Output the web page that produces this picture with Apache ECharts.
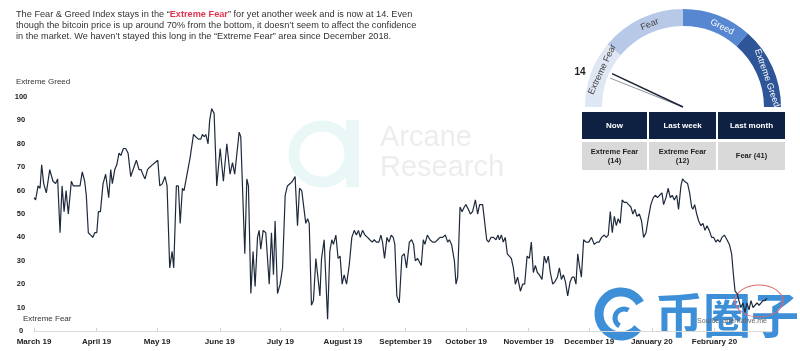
<!DOCTYPE html>
<html>
<head>
<meta charset="utf-8">
<script src="https://cdn.jsdelivr.net/npm/echarts@6/dist/echarts.min.js"></script>
<style>
  html, body { margin: 0; padding: 0; background: #fff; }
  #chart { width: 800px; height: 351px; }
</style>
</head>
<body>
<div id="chart"></div>
<script>
// day offset from 1 March 2019
var days = [
  0,0.8,2.0,3.0,3.8,4.8,6.1,7.8,9.4,10.7,
  11.7,12.9,13.9,14.9,15.9,17.0,18.5,19.5,20.6,21.8,
  22.8,23.9,25.1,25.9,26.9,28.1,29.1,30.1,31.1,31.9,
  32.9,34.2,35.5,36.3,37.0,38.0,38.8,40.0,41.0,42.1,
  43.0,44.3,45.4,46.6,47.9,49.1,50.7,52.0,53.0,53.9,
  55.0,56.2,57.3,58.6,60.0,61.3,62.3,63.6,64.9,65.9,
  67.2,68.4,69.2,70.5,71.5,72.4,73.5,74.3,75.8,77.3,
  79.0,80.1,81.4,82.6,83.4,84.4,85.1,86.2,87.0,88.0,
  89.2,90.5,92.2,93.8,95.5,97.1,98.3,99.4,101.6,102.4,
  104.4,105.4,106.2,107.4,108.5,109.5,110.7,111.5,112.3,113.5,
  114.8,116.5,117.6,118.6,119.4,120.6,121.9,123.1,124.4,125.5,
  126.9,128.0,129.3,130.5,131.5,132.6,133.5,134.6,135.5,136.3,
  137.4,138.4,139.6,141.6,142.4,143.7,145.4,146.5,147.5,148.3,
  149.5,150.6,151.6,152.6,153.6,154.8,156.1,157.4,158.6,159.7,
  160.7,161.6,162.7,163.9,165.2,166.3,167.5,168.5,169.6,170.8,
  171.8,172.6,173.6,174.8,175.8,176.9,177.9,178.7,179.7,180.9,
  182.2,183.4,184.5,185.9,187.0,188.0,188.8,190.0,190.8,191.8,
  192.8,193.6,194.8,196.1,197.4,198.7,199.9,201.1,202.4,203.7,
  204.9,205.7,206.8,208.2,209.0,209.8,211.0,212.0,213.1,213.9,
  215.1,216.1,217.2,218.6,219.7,220.7,221.4,222.2,223.0,224.2,
  225.2,226.3,227.5,228.8,229.8,230.5,231.5,232.4,233.4,234.4,
  235.4,236.4,237.4,238.4,239.5,240.9,242.0,243.0,244.2,245.3,
  246.3,247.3,248.3,249.3,250.3,251.6,252.7,253.7,254.7,255.7,
  256.9,257.9,259.2,260.2,261.2,262.2,263.2,264.3,265.5,266.5,
  267.5,268.4,269.3,270.1,271.1,272.2,
  273.4,274.7,276.1,277.5,278.8,279.9,281.1,282.4,283.4,284.4,
  285.4,286.4,287.4,288.4,289.3,290.3,291.3,292.3,293.5,294.5,
  295.6,296.6,297.6,298.6,299.8,300.9,301.9,303.1,304.2,305.5,
  306.7,307.7,308.8,309.8,311.0,311.8,313.0,314.1,315.1,316.1,
  317.1,318.3,319.2,320.4,321.2,322.1,322.9,323.7,324.7,325.7,
  326.3,327.2,328.2,329.2,330.3,331.3,332.3,333.3,334.4,335.6,
  336.6,337.7,338.6,339.7,340.7,341.9,343.2,344.4,345.5,346.5,
  347.2,348.2,349.1,350.1,351.1,352.1,353.1,354.1,355.1,356.1,
  357.1,358.1,359.1,360.1,361.0,362.0,363.0
];
var fgi = [
  57,56,62,61,71,63,59,69,64,63,
  65,42,62,51,60,50,64,62,62,62,
  62,68,64,58,42,41,40,42,42,51,
  51,63,67,67,57,69,63,69,71,76,
  75,78,78,76,66,69,73,69,69,67,
  65,69,70,71,72,73,62,63,66,62,
  27,34,27,62,62,46,61,60,67,74,
  84,83,82,82,84,83,84,80,90,95,
  93,62,78,64,80,67,72,67,85,83,
  33,65,62,16,34,19,40,43,35,43,
  42,20,42,24,47,16,20,27,58,62,
  63,64,66,45,61,60,60,46,48,46,
  11,13,31,15,31,39,5,34,39,37,
  41,31,32,20,24,20,28,40,43,41,
  43,40,43,41,40,39,38,39,38,38,
  41,38,31,40,38,41,40,37,15,12,
  32,33,27,38,39,37,30,31,31,28,
  39,37,41,39,38,38,39,40,40,41,
  38,39,37,30,20,23,53,51,53,54,
  52,50,51,56,50,54,54,54,54,39,
  38,40,40,39,41,39,41,38,40,33,
  32,31,27,20,23,17,20,20,32,31,
  38,25,28,25,24,22,32,29,32,25,
  20,21,23,27,22,24,21,15,21,23,
  23,20,33,28,23,39,
  38,38,40,37,38,38,40,41,40,41,
  51,42,49,45,48,46,56,55,55,54,
  53,50,52,49,50,47,40,42,48,54,
  57,58,57,58,59,54,57,61,57,58,
  56,58,52,62,65,64,64,63,59,53,
  52,54,50,47,45,46,43,45,43,40,
  40,38,39,38,40,41,39,37,33,23,
  17,16,13,10,12,8,12,9,13,10,
  11,12,11,12,13,13,14
];
// first day of each month (offset) and its label
var monthStarts = [0, 31, 61, 92, 122, 153, 184, 214, 245, 275, 306, 337];
var monthLabels = ['March 19', 'April 19', 'May 19', 'June 19', 'July 19', 'August 19',
  'September 19', 'October 19', 'November 19', 'December 19', 'January 20', 'February 20'];
var yTicks = [0, 10, 20, 30, 40, 50, 60, 70, 80, 90, 100];

var nowValue = 14, lastWeekValue = 12;
var tableHeads = ['Now', 'Last week', 'Last month'];
var tableCells = ['Extreme Fear\n(14)', 'Extreme Fear\n(12)', 'Fear (41)'];
var zoneNames = ['Extreme Fear', 'Fear', 'Greed', 'Extreme Greed'];

var points = days.map(function (d, i) { return [d, fgi[i]]; });

var chart = echarts.init(document.getElementById('chart'));
var FONT = '"Liberation Sans", Arial, sans-serif';

function rad(deg) { return deg * Math.PI / 180; }

// gauge zone labels, placed along the arc
var gx = 683, gy = 107;
var zoneLabelPos = [
  { a: 155, r: 89, color: '#404040' },
  { a: 112, r: 89, color: '#404040' },
  { a: 64, r: 89, color: '#ffffff' },
  { a: 19, r: 89, color: '#ffffff' }
];

var graphics = [
  // watermark Arcane Research
  { type: 'circle', z: 0, shape: { cx: 322, cy: 154, r: 28 }, style: { fill: 'none', stroke: '#e9f7f7', lineWidth: 11 } },
  { type: 'rect', z: 0, shape: { x: 346, y: 120, width: 13, height: 67 }, style: { fill: '#e9f7f7' } },
  { type: 'text', z: 0, x: 380, y: 138, style: { text: 'Arcane', font: '29px ' + FONT, fill: '#ededed', textVerticalAlign: 'middle' } },
  { type: 'text', z: 0, x: 380, y: 168, style: { text: 'Research', font: '29px ' + FONT, fill: '#ededed', textVerticalAlign: 'middle' } },
  // axis captions
  { type: 'text', x: 16, y: 82, style: { text: 'Extreme Greed', font: '8px ' + FONT, fill: '#333', textVerticalAlign: 'middle' } },
  { type: 'text', x: 23, y: 319, style: { text: 'Extreme Fear', font: '8px ' + FONT, fill: '#333', textVerticalAlign: 'middle' } },
  // gauge value
  { type: 'text', x: 580, y: 72, style: { text: String(nowValue), font: 'bold 10px ' + FONT, fill: '#222', textAlign: 'center', textVerticalAlign: 'middle' } },
  // 币圈子 watermark + marks
  { type: 'arc', z: 0, shape: { cx: 621, cy: 314, r: 22, startAngle: rad(40), endAngle: rad(330) }, style: { stroke: '#3d8fd8', lineWidth: 9, fill: 'none' } },
  { type: 'arc', z: 0, shape: { cx: 624, cy: 318, r: 9, startAngle: rad(120), endAngle: rad(300) }, style: { stroke: '#3d8fd8', lineWidth: 5, fill: 'none' } },
  { type: 'text', z: 0, x: 655, y: 315, style: { text: '币圈子', font: 'bold 48px "Noto Sans CJK SC"', fill: '#3d8fd8', textVerticalAlign: 'middle' } },
  { type: 'text', z: 1, x: 732, y: 321, style: { text: 'Source: alternative.me', font: '7px ' + FONT, fill: '#666', textAlign: 'center', textVerticalAlign: 'middle' } },
  { type: 'circle', z: 1, x: 759, y: 301, scaleX: 1.5, scaleY: 1, shape: { cx: 0, cy: 0, r: 16 }, style: { fill: 'none', stroke: '#e06a6a', lineWidth: 0.8 } }
];

zoneNames.forEach(function (name, i) {
  var p = zoneLabelPos[i];
  graphics.push({
    type: 'text', z: 5,
    x: gx + p.r * Math.cos(rad(p.a)),
    y: gy - p.r * Math.sin(rad(p.a)),
    rotation: rad(p.a - 90),
    style: { text: name, font: '9px ' + FONT, fill: p.color, textAlign: 'center', textVerticalAlign: 'middle' }
  });
});

// table under the gauge
var colX = [582, 649, 718], colW = [65, 67, 67];
tableHeads.forEach(function (h, i) {
  graphics.push({ type: 'rect', shape: { x: colX[i], y: 112, width: colW[i], height: 27 }, style: { fill: '#0f2142' } });
  graphics.push({ type: 'text', x: colX[i] + colW[i] / 2, y: 126, style: { text: h, font: 'bold 8px ' + FONT, fill: '#fff', textAlign: 'center', textVerticalAlign: 'middle' } });
  graphics.push({ type: 'rect', shape: { x: colX[i], y: 142, width: colW[i], height: 28 }, style: { fill: '#d9d9d9' } });
  graphics.push({ type: 'text', x: colX[i] + colW[i] / 2, y: 156, style: { text: tableCells[i], font: 'bold 7.5px ' + FONT, fill: '#222', textAlign: 'center', textVerticalAlign: 'middle', lineHeight: 9 } });
});

var option = {
  animation: false,
  title: {
    left: 16,
    top: 9,
    padding: 0,
    text: 'The Fear & Greed Index stays in the “{r|Extreme Fear}” for yet another week and is now at 14. Even\n' +
      'though the bitcoin price is up around 70% from the bottom, it doesn’t seem to affect the confidence\n' +
      'in the market. We haven’t stayed this long in the “Extreme Fear” area since December 2018.',
    textStyle: {
      fontSize: 9.2, fontWeight: 'normal', color: '#333', fontFamily: FONT, lineHeight: 11,
      rich: { r: { fontSize: 9.2, fontWeight: 'bold', color: '#e0344f', fontFamily: FONT, lineHeight: 11 } }
    }
  },
  grid: { left: 34, right: 29, top: 97, bottom: 20 },
  xAxis: {
    type: 'value',
    min: 0,
    max: 365,
    splitLine: { show: false },
    axisLine: { show: true, lineStyle: { color: '#d9d9d9', width: 1 } },
    axisTick: { show: true, customValues: monthStarts, length: 3, inside: true, lineStyle: { color: '#d0d0d0' } },
    axisLabel: {
      customValues: monthStarts,
      margin: 7,
      color: '#222',
      fontWeight: 'bold',
      fontSize: 8,
      fontFamily: FONT,
      formatter: function (v) { return monthLabels[monthStarts.indexOf(v)]; }
    }
  },
  yAxis: {
    type: 'value',
    min: 0,
    max: 100,
    interval: 10,
    splitLine: { show: false },
    axisLine: { show: false },
    axisTick: { show: false },
    axisLabel: {
      customValues: yTicks,
      align: 'center',
      margin: 13,
      color: '#222',
      fontWeight: 'bold',
      fontSize: 7.5,
      fontFamily: FONT
    }
  },
  graphic: graphics,
  series: [
    {
      type: 'line',
      data: points,
      showSymbol: false,
      symbol: 'none',
      z: 3,
      lineStyle: { color: '#1e2a3c', width: 1.2 }
    },
    {
      type: 'gauge',
      center: [gx, gy],
      radius: 98,
      startAngle: 180,
      endAngle: 0,
      min: 0,
      max: 100,
      z: 2,
      axisLine: { lineStyle: { width: 17, color: [[0.22, '#dfe7f4'], [0.5, '#b8c9e8'], [0.73, '#5887d2'], [1, '#2d5597']] } },
      splitLine: { show: false },
      axisTick: { show: false },
      axisLabel: { show: false },
      anchor: { show: false },
      title: { show: false },
      detail: { show: false },
      pointer: { show: false },
      data: [{ value: nowValue }]
    },
    {
      type: 'gauge',
      center: [gx, gy],
      radius: 98,
      startAngle: 180,
      endAngle: 0,
      min: 0,
      max: 100,
      z: 4,
      axisLine: { show: false },
      splitLine: { show: false },
      axisTick: { show: false },
      axisLabel: { show: false },
      anchor: { show: false },
      title: { show: false },
      detail: { show: false },
      pointer: { icon: 'rect', length: '80%', width: 1, offsetCenter: [0, 0] },
      itemStyle: { color: '#8a8f99' },
      data: [{ value: lastWeekValue }]
    },
    {
      type: 'gauge',
      center: [gx, gy],
      radius: 98,
      startAngle: 180,
      endAngle: 0,
      min: 0,
      max: 100,
      z: 5,
      axisLine: { show: false },
      splitLine: { show: false },
      axisTick: { show: false },
      axisLabel: { show: false },
      anchor: { show: false },
      title: { show: false },
      detail: { show: false },
      pointer: { icon: 'rect', length: '80%', width: 1.6, offsetCenter: [0, 0] },
      itemStyle: { color: '#1b2438' },
      data: [{ value: nowValue }]
    }
  ]
};

chart.setOption(option);
</script>
</body>
</html>
